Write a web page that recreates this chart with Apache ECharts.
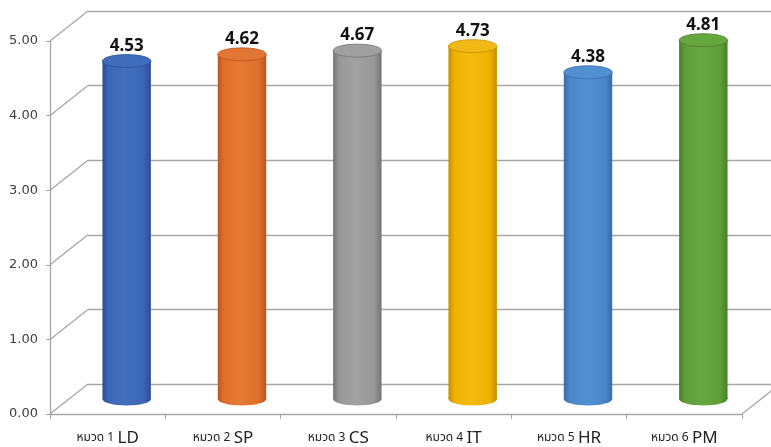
<!DOCTYPE html>
<html>
<head>
<meta charset="utf-8">
<script src="https://cdn.jsdelivr.net/npm/echarts@6/dist/echarts.min.js"></script>
<style>
  html, body { margin: 0; padding: 0; background: #ffffff; }
  #chart { width: 771px; height: 447px; }
</style>
</head>
<body>
<div id="chart"></div>
<script>
// Category names, mean scores and axis ticks
const categories = ['หมวด 1 LD', 'หมวด 2 SP', 'หมวด 3 CS', 'หมวด 4 IT', 'หมวด 5 HR', 'หมวด 6 PM'];
const scores = [4.53, 4.62, 4.67, 4.73, 4.38, 4.81];
const yTicks = [0, 1, 2, 3, 4, 5];

// Cylinder shading per bar: [edge, body, highlight, cap]
const shades = [
  ['#2a4e92', '#3b66b5', '#4170bf', '#3f6cbb'],
  ['#b8561c', '#de6f2a', '#e67a36', '#e27634'],
  ['#747474', '#979797', '#a2a2a2', '#a0a0a0'],
  ['#c48e00', '#eeb100', '#f5bb10', '#f2b815'],
  ['#376ca8', '#4a86c9', '#5390d2', '#528fd0'],
  ['#4a7e2a', '#5f9d39', '#67a742', '#66a63f']
];

// Depth offset of the 3D box (front plane -> back wall)
const DX = 38, DY = 30;
const gridColor = '#a6a6a6';

const chart = echarts.init(document.getElementById('chart'));

function cylinder(params, api) {
  const i = api.value(0);
  const v = api.value(1);
  const top = api.coord([i, v]);
  const base = api.coord([i, 0]);
  const rx = api.size([1, 0])[0] * 0.21;
  const ry = 6.5;
  const cx = top[0];
  const s = shades[i];
  const bodyFill = {
    type: 'linear', x: 0, y: 0, x2: 1, y2: 0,
    colorStops: [
      { offset: 0, color: s[0] },
      { offset: 0.12, color: s[1] },
      { offset: 0.45, color: s[2] },
      { offset: 0.85, color: s[1] },
      { offset: 1, color: s[0] }
    ]
  };
  return {
    type: 'group',
    children: [
      { type: 'ellipse', shape: { cx: cx, cy: base[1], rx: rx, ry: ry }, style: { fill: bodyFill } },
      { type: 'rect', shape: { x: cx - rx, y: top[1], width: rx * 2, height: base[1] - top[1] }, style: { fill: bodyFill } },
      { type: 'ellipse', shape: { cx: cx, cy: top[1], rx: rx, ry: ry },
        style: { fill: s[3], stroke: s[0], lineWidth: 0.8 } },
      { type: 'text', x: cx, y: top[1] - 15,
        style: { text: v.toFixed(2), fill: '#111111', font: 'bold 17px "Noto Sans", "Liberation Sans", sans-serif',
                 align: 'center', verticalAlign: 'middle' } }
    ]
  };
}

function boxEdges(params, api) {
  const cs = params.coordSys;
  const v = api.value(1);
  const y = api.coord([0, v])[1];
  const children = [
    { type: 'line', shape: { x1: cs.x, y1: y, x2: cs.x + DX, y2: y - DY },
      style: { stroke: gridColor, lineWidth: 1.3 } }
  ];
  if (v === 0) {
    children.push({ type: 'line',
      shape: { x1: cs.x + cs.width, y1: y, x2: cs.x + cs.width + DX, y2: y - DY },
      style: { stroke: gridColor, lineWidth: 1.3 } });
  }
  return { type: 'group', children: children };
}

const option = {
  backgroundColor: '#ffffff',
  animation: false,
  grid: [
    // front plane with the axes
    { left: 50, right: 29, top: 41, bottom: 33 },
    // mid-depth plane holding the cylinders
    { left: 50 + DX / 2, right: 29 - DX / 2, top: 41 - DY / 2, bottom: 33 + DY / 2 },
    // back wall
    { left: 50 + DX, right: 0, top: 41 - DY, bottom: 33 + DY }
  ],
  xAxis: [
    { gridIndex: 0, type: 'category', data: categories,
      axisLine: { show: true, lineStyle: { color: gridColor, width: 1.3 } },
      axisTick: { show: true, interval: 0, length: 5, lineStyle: { color: gridColor } },
      axisLabel: {
        interval: 0,
        margin: 16,
        formatter: function (val) {
          const k = val.lastIndexOf(' ');
          return '{a|' + val.slice(0, k) + '} {b|' + val.slice(k + 1) + '}';
        },
        rich: {
          a: { fontSize: 12, color: '#222222', fontFamily: '"Noto Sans Thai", "Noto Sans", sans-serif' },
          b: { fontSize: 17, color: '#222222', fontFamily: '"Noto Sans", "Liberation Sans", sans-serif' }
        }
      }
    },
    { gridIndex: 1, type: 'category', data: categories, show: false },
    { gridIndex: 2, type: 'value', show: false }
  ],
  yAxis: [
    { gridIndex: 0, type: 'value', min: 0, max: 5, interval: 1,
      axisLine: { show: true, lineStyle: { color: gridColor, width: 1.3 } },
      axisTick: { show: true, length: 4, lineStyle: { color: gridColor } },
      splitLine: { show: false },
      axisLabel: { margin: 12, fontSize: 13, color: '#404040',
        fontFamily: '"DejaVu Sans", sans-serif',
        formatter: function (v) { return v.toFixed(2); } }
    },
    { gridIndex: 1, type: 'value', min: 0, max: 5, interval: 1, show: false, splitLine: { show: false } },
    { gridIndex: 2, type: 'value', min: 0, max: 5, interval: 1,
      axisLine: { show: false }, axisTick: { show: false }, axisLabel: { show: false },
      splitLine: { show: true, lineStyle: { color: gridColor, width: 1.3 } }
    }
  ],
  series: [
    { type: 'custom', xAxisIndex: 0, yAxisIndex: 0, silent: true, z: 1,
      data: yTicks.map(function (t) { return [0, t]; }), renderItem: boxEdges },
    { type: 'custom', xAxisIndex: 1, yAxisIndex: 1, z: 5,
      data: scores.map(function (s, i) { return [i, s]; }), renderItem: cylinder }
  ]
};

chart.setOption(option);
</script>
</body>
</html>
